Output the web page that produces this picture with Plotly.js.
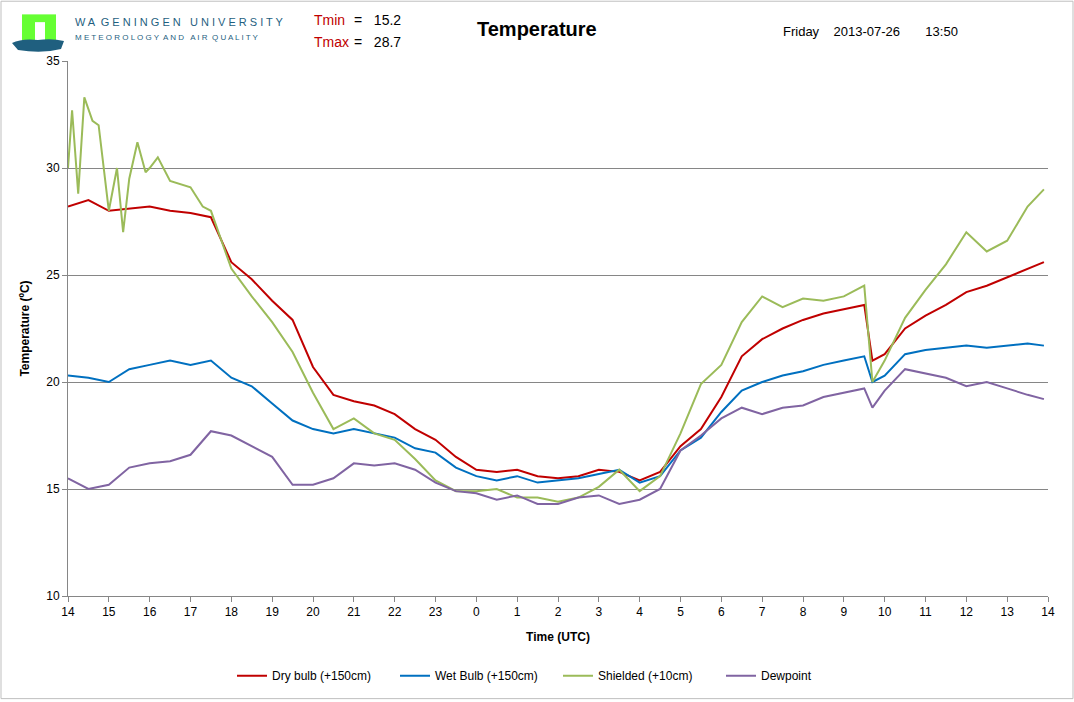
<!DOCTYPE html>
<html><head><meta charset="utf-8">
<script src="https://cdn.plot.ly/plotly-3.0.1.min.js"></script>
<style>body{margin:0;background:#fff}#c{width:1074px;height:702px}</style>
</head><body><div id="c"></div>
<script>
// hours since 14:00 UTC of the previous day
var tMain = [0,0.5,1,1.5,2,2.5,3,3.5,4,4.5,5,5.5,6,6.5,7,7.5,8,8.5,9,9.5,10,10.5,11,11.5,12,12.5,13,13.5,14,14.5,15,15.5,16,16.5,17,17.5,18,18.5,19,19.5,19.7,20,20.5,21,21.5,22,22.5,23,23.5,23.9];
var dryBulb = [28.2,28.5,28.0,28.1,28.2,28.0,27.9,27.7,25.6,24.8,23.8,22.9,20.7,19.4,19.1,18.9,18.5,17.8,17.3,16.5,15.9,15.8,15.9,15.6,15.5,15.6,15.9,15.8,15.4,15.8,17.0,17.8,19.3,21.2,22.0,22.5,22.9,23.2,23.4,23.6,21.0,21.3,22.5,23.1,23.6,24.2,24.5,24.9,25.3,25.6];
var wetBulb = [20.3,20.2,20.0,20.6,20.8,21.0,20.8,21.0,20.2,19.8,19.0,18.2,17.8,17.6,17.8,17.6,17.4,16.9,16.7,16.0,15.6,15.4,15.6,15.3,15.4,15.5,15.7,15.9,15.3,15.6,16.8,17.4,18.6,19.6,20.0,20.3,20.5,20.8,21.0,21.2,20.0,20.3,21.3,21.5,21.6,21.7,21.6,21.7,21.8,21.7];
var dewpoint = [15.5,15.0,15.2,16.0,16.2,16.3,16.6,17.7,17.5,17.0,16.5,15.2,15.2,15.5,16.2,16.1,16.2,15.9,15.3,14.9,14.8,14.5,14.7,14.3,14.3,14.6,14.7,14.3,14.5,15.0,16.8,17.5,18.3,18.8,18.5,18.8,18.9,19.3,19.5,19.7,18.8,19.6,20.6,20.4,20.2,19.8,20.0,19.7,19.4,19.2];
var tShield = [0,0.1,0.25,0.4,0.6,0.75,1,1.2,1.35,1.5,1.7,1.9,2,2.2,2.5,3,3.3,3.5,4,4.5,5,5.5,6,6.5,7,7.5,8,8.5,9,9.5,10,10.5,11,11.5,12,12.5,13,13.5,14,14.5,15,15.5,16,16.5,17,17.5,18,18.5,19,19.5,19.7,20,20.5,21,21.5,22,22.5,23,23.5,23.9];
var shielded = [30.0,32.7,28.8,33.3,32.2,32.0,28.0,30.0,27.0,29.5,31.2,29.8,30.0,30.5,29.4,29.1,28.2,28.0,25.3,24.0,22.8,21.4,19.5,17.8,18.3,17.6,17.3,16.4,15.4,14.9,14.9,15.0,14.6,14.6,14.4,14.6,15.1,15.9,14.9,15.6,17.6,19.9,20.8,22.8,24.0,23.5,23.9,23.8,24.0,24.5,20.0,21.0,23.0,24.3,25.5,27.0,26.1,26.6,28.2,29.0];
var tickVals = [0,1,2,3,4,5,6,7,8,9,10,11,12,13,14,15,16,17,18,19,20,21,22,23,24];
var tickText = ['14','15','16','17','18','19','20','21','22','23','0','1','2','3','4','5','6','7','8','9','10','11','12','13','14'];

var font = 'Liberation Sans, Arial, sans-serif';
function tr(x, y, name, color) {
  return {x: x, y: y, name: name, type: 'scatter', mode: 'lines', line: {color: color, width: 2}};
}
var data = [
  tr(tMain, dryBulb, 'Dry bulb (+150cm)', '#c00000'),
  tr(tMain, wetBulb, 'Wet Bulb (+150cm)', '#0070c0'),
  tr(tShield, shielded, 'Shielded (+10cm)', '#9bbb59'),
  tr(tMain, dewpoint, 'Dewpoint', '#8064a2')
];
// pixel -> paper helpers (plot area 68..1048 x 61..598)
function px(v) { return (v - 68) / 980; }
function py(v) { return (598 - v) / 537; }
var logo = 'data:image/svg+xml;utf8,' + encodeURIComponent(
  '<svg xmlns="http://www.w3.org/2000/svg" width="52" height="40">' +
  '<rect x="10" y="0" width="34" height="28" fill="#66ff33"/>' +
  '<rect x="23" y="8" width="10" height="20" fill="#fff"/>' +
  '<path d="M0 29 Q10 24 26 26 Q40 24 52 27 L49 35 Q30 40 6 36 Z" fill="#1f5f7f"/></svg>');
var ann = function (x, y, text, color, size, bold, anchor) {
  return {xref: 'paper', yref: 'paper', x: px(x), y: py(y), text: bold ? '<b>' + text + '</b>' : text,
    showarrow: false, xanchor: anchor || 'left', yanchor: 'middle', font: {family: font, size: size, color: color}};
};
var layout = {
  width: 1074, height: 702,
  margin: {l: 68, r: 26, t: 61, b: 104},
  paper_bgcolor: '#fff', plot_bgcolor: '#fff',
  font: {family: font, size: 12, color: '#000'},
  xaxis: {range: [0, 24], tickvals: tickVals, ticktext: tickText, showgrid: false, zeroline: false,
    showline: true, linecolor: '#868686', ticks: 'outside', ticklen: 5, tickcolor: '#868686',
    title: {text: '<b>Time (UTC)</b>', font: {size: 12}, standoff: 14}},
  yaxis: {range: [10, 35], dtick: 5, showgrid: true, gridcolor: '#868686', zeroline: false,
    showline: true, linecolor: '#868686', ticks: 'outside', ticklen: 5, tickcolor: '#868686',
    title: {text: '<b>Temperature (ºC)</b>', font: {size: 12}, standoff: 14}},
  showlegend: true,
  legend: {orientation: 'h', x: 0.5, xanchor: 'center', y: py(678), yanchor: 'middle', font: {size: 12},
    entrywidth: 118},
  shapes: [{type: 'rect', xref: 'paper', yref: 'paper', x0: px(1), x1: px(1073), y0: py(1), y1: py(701),
    line: {color: '#bfbfbf', width: 1}}],
  images: [{source: logo, xref: 'paper', yref: 'paper', x: px(12), y: py(14), sizex: 52 / 980, sizey: 40 / 537,
    xanchor: 'left', yanchor: 'top', sizing: 'stretch', layer: 'above'}],
  annotations: [
    ann(73, 22, 'W A  G E N I N G E N   U N I V E R S I T Y', '#1f5f7f', 11),
    ann(73, 37, 'M E T E O R O L O G Y  A N D   A I R  Q U A L I T Y', '#1f5f7f', 8),
    ann(312, 20, 'Tmin', '#c00000', 14), ann(352, 20, '=&nbsp;&nbsp;&nbsp;15.2', '#000', 14),
    ann(312, 42, 'Tmax', '#c00000', 14), ann(352, 42, '=&nbsp;&nbsp;&nbsp;28.7', '#000', 14),
    ann(537, 29, 'Temperature', '#000', 20, true, 'center'),
    ann(781, 31, 'Friday&nbsp;&nbsp;&nbsp;&nbsp;2013-07-26&nbsp;&nbsp;&nbsp;&nbsp;&nbsp;&nbsp;&nbsp;13:50', '#000', 13)
  ]
};
Plotly.newPlot('c', data, layout, {displayModeBar: false});
</script></body></html>
